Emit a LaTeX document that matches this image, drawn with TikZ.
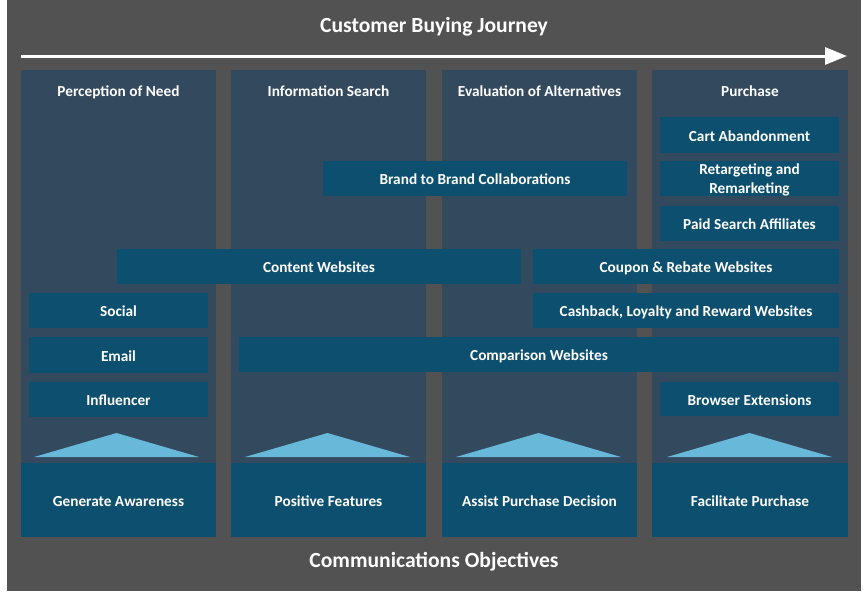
\documentclass[tikz,border=0pt]{standalone}
\usepackage{fontspec}
\setmainfont{Carlito}
\usetikzlibrary{arrows.meta}
\definecolor{bgray}{RGB}{82,82,82}
\definecolor{colfill}{RGB}{51,73,94}
\definecolor{boxfill}{RGB}{13,79,110}
\definecolor{trifill}{RGB}{104,184,218}
\tikzset{
  colbox/.style={fill=colfill, draw=none, inner sep=0pt, anchor=north west},
  ibox/.style={fill=boxfill, draw=none, inner sep=0pt, text=white, font=\bfseries\fontsize{15.3}{18.4}\selectfont, align=center, text height=14pt, text depth=1.8pt},
  objbox/.style={fill=boxfill, draw=none, inner sep=0pt, text=white, font=\bfseries\fontsize{15.3}{18}\selectfont, minimum width=195pt, minimum height=74pt, text height=14pt, text depth=1.8pt},
  colhead/.style={text=white, font=\bfseries\fontsize{15.3}{18}\selectfont, inner sep=0pt, text height=14pt, text depth=1.8pt},
  bigtitle/.style={text=white, font=\bfseries\fontsize{21.6}{24}\selectfont, inner sep=0pt, anchor=base},
  tri/.style={fill=trifill, draw=none},
}
\begin{document}
\begin{tikzpicture}[x=1pt,y=-1pt]
\useasboundingbox (0,0) rectangle (863,592);
\fill[white] (0,0) rectangle (863,592);
\fill[bgray] (7,0) rectangle (861,591);
% title and arrow
\node[bigtitle] (title) at (434,32) {Customer Buying Journey};
\coordinate (arrowstart) at (21,56);
\coordinate (arrowend) at (847,56);
\draw[white, line width=3pt, -{Triangle[length=22pt,width=17pt]}] (arrowstart) -- (arrowend);
% columns
\node[colbox, minimum width=195pt, minimum height=467pt] (col1) at (21,70) {};
\node[colbox, minimum width=195pt, minimum height=467pt] (col2) at (231,70) {};
\node[colbox, minimum width=195pt, minimum height=467pt] (col3) at (442,70) {};
\node[colbox, minimum width=196pt, minimum height=467pt] (col4) at (652,70) {};
% headers
\node[colhead] (h1) at (118.5,90) {Perception of Need};
\node[colhead] (h2) at (328.5,90) {Information Search};
\node[colhead] (h3) at (539.5,90) {Evaluation of Alternatives};
\node[colhead] (h4) at (750,90) {Purchase};
% inner boxes
\node[ibox, minimum width=179pt, minimum height=36pt] (cart) at (749.5,135) {Cart Abandonment};
\node[ibox, minimum width=179pt, minimum height=35pt, text height=30pt, text depth=1pt] (retarg) at (749.5,178.5) {Retargeting and\\Remarketing};
\node[ibox, minimum width=179pt, minimum height=35pt] (paid) at (749.5,223.5) {Paid Search Affiliates};
\node[ibox, minimum width=304pt, minimum height=35pt] (brand) at (475,178.5) {Brand to Brand Collaborations};
\node[ibox, minimum width=404pt, minimum height=35pt] (content) at (319,266.5) {Content Websites};
\node[ibox, minimum width=306pt, minimum height=35pt] (coupon) at (686,266.5) {Coupon \& Rebate Websites};
\node[ibox, minimum width=306pt, minimum height=35pt] (cashback) at (686,310.5) {Cashback, Loyalty and Reward Websites};
\node[ibox, minimum width=600pt, minimum height=35pt] (compare) at (539,354.5) {Comparison Websites};
\node[ibox, minimum width=179pt, minimum height=35pt] (social) at (118.5,310.5) {Social};
\node[ibox, minimum width=179pt, minimum height=36pt] (email) at (118.5,355) {Email};
\node[ibox, minimum width=179pt, minimum height=35pt] (infl) at (118.5,399.5) {Influencer};
\node[ibox, minimum width=179pt, minimum height=34pt] (browser) at (749.5,399) {Browser Extensions};
% triangles
\fill[tri] (34,457) -- (116.5,433) -- (199,457) -- cycle;
\fill[tri] (245,457) -- (327.5,433) -- (410,457) -- cycle;
\fill[tri] (456,457) -- (538.5,433) -- (621,457) -- cycle;
\fill[tri] (667,457) -- (749.5,433) -- (832,457) -- cycle;
% objective boxes
\node[objbox] (o1) at (118.5,500) {Generate Awareness};
\node[objbox] (o2) at (328.5,500) {Positive Features};
\node[objbox] (o3) at (539.5,500) {Assist Purchase Decision};
\node[objbox, minimum width=196pt] (o4) at (750,500) {Facilitate Purchase};
\node[bigtitle] (footer) at (434,567) {Communications Objectives};
\end{tikzpicture}
\end{document}
